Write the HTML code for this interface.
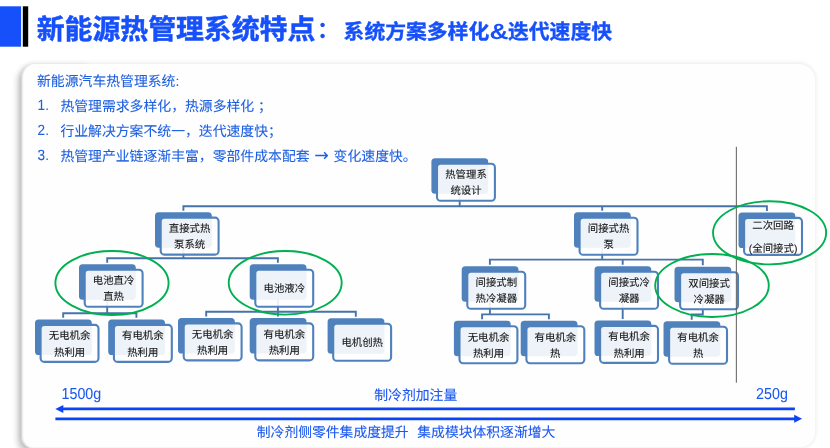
<!DOCTYPE html>
<html lang="zh-CN"><head><meta charset="utf-8"><title>新能源热管理系统特点</title>
<style>
html,body{margin:0;padding:0;background:#fff;}
body{width:830px;height:448px;overflow:hidden;position:relative;font-family:"Liberation Sans","Noto Sans CJK SC",sans-serif;}
#shl{position:absolute;left:20.9px;top:64.3px;width:70px;height:384px;background:#fefefe;border-radius:13.5px 0 0 11px;box-shadow:-3px 3.5px 6px rgba(0,0,0,0.23);}
#card{position:absolute;left:20.9px;top:64.3px;width:794.2px;height:384px;background:#fefefe;border-radius:13.5px 16px 16px 11px;box-shadow:0 0 4px rgba(0,20,80,0.075), 0 -1px 7px rgba(0,0,30,0.045), inset 2.2px -0.5px 2px -1px rgba(0,0,0,0.2);}
svg{position:absolute;left:0;top:0;will-change:transform;}
text{font-family:"Liberation Sans","Noto Sans CJK SC",sans-serif;text-rendering:geometricPrecision;}
</style></head><body>
<div id="shl"></div><div id="card"></div>
<svg width="830" height="448" viewBox="0 0 830 448">
<rect x="0" y="6.3" width="21.1" height="40.4" fill="#1650fb"/>
<rect x="22.8" y="6.3" width="5.4" height="40.4" fill="#000"/>
<text transform="translate(36.70 38.85) scale(1 1.0)" font-size="27.87" font-weight="700" fill="#1650fb" stroke="#1650fb" stroke-width="0.5">新能源热管理系统特点</text>
<text x="316.8" y="37.7" font-size="23.3" font-weight="700" fill="#1650fb">：</text>
<text transform="translate(343.60 39.00) scale(1 1.0)" font-size="20.8" font-weight="700" fill="#1650fb" stroke="#1650fb" stroke-width="0.35">系统方案多样化</text>
<text transform="translate(489.4 39.0) scale(1.26 1.06)" font-size="20.8" font-weight="700" fill="#1650fb">&amp;</text>
<text transform="translate(508.00 39.00) scale(1 1.0)" font-size="20.8" font-weight="700" fill="#1650fb" stroke="#1650fb" stroke-width="0.35">迭代速度快</text>
<g font-size="13.85" fill="#1c5fe0" stroke="#1c5fe0" stroke-width="0.08">
<text transform="translate(37.00 85.50) scale(1 1.0)">新能源汽车热管理系统:</text>
<text transform="translate(37.6 110.4) scale(0.98 1.07)" stroke-width="0.05">1.</text>
<text transform="translate(60.40 110.70) scale(1 1.0)">热管理需求多样化，热源多样化 ；</text>
<text transform="translate(37.6 135.29999999999998) scale(0.98 1.07)" stroke-width="0.05">2.</text>
<text transform="translate(60.40 135.60) scale(1 1.0)">行业解决方案不统一，迭代速度快；</text>
<text transform="translate(37.6 160.39999999999998) scale(0.98 1.07)" stroke-width="0.05">3.</text>
<text transform="translate(60.40 160.70) scale(1 1.0)">热管理产业链逐渐丰富，零部件成本配套</text>
<text x="314.2" y="160.7" style="font-family:'DejaVu Sans','Liberation Sans',sans-serif" font-size="17.4" stroke="none">→</text>
<text transform="translate(333.60 160.70) scale(1 1.0)">变化速度快。</text>
</g>
<path d="M459.7 193V206.3 M183.4 210.7V206.3H766.9V211 M602.2 206.3V210.8 M183.4 247.5V258.3 M107.2 262.7V258.3H277.9V262.7 M602.2 247.8V259.6 M489.9 264.7V259.6H702.8V265.2 M622.7 259.6V264.7 M107.2 299V313.2 M63.2 317.8V313.2H136.4V317.8 M277.9 299V311.8 M206.2 316.4V311.8H355.8V316.7 M277.9 311.8V316.4 M489.9 301V314.4 M482.1 319.2V314.4H548.9V319.2 M622.7 301V318.9 M702.8 301.5V314.5H691.7V319.7" stroke="#4673aa" stroke-width="1.9" fill="none"/>
<rect x="431.4" y="158.3" width="56.8" height="35.5" rx="3.6" fill="#4f81bd"/>
<rect x="437.0" y="163.8" width="57.9" height="37.0" rx="3.6" fill="#fff" fill-opacity="0.9" stroke="#4f81bd" stroke-width="2.1"/>
<text transform="translate(466.00 178.24) scale(1 1.0)" font-size="10.4" fill="#141414" stroke="#141414" stroke-width="0.1" text-anchor="middle">热管理系</text>
<text transform="translate(466.00 194.34) scale(1 1.0)" font-size="10.4" fill="#141414" stroke="#141414" stroke-width="0.1" text-anchor="middle">统设计</text>
<rect x="155.0" y="212.2" width="56.8" height="35.5" rx="3.6" fill="#4f81bd"/>
<rect x="160.7" y="217.6" width="57.9" height="37.0" rx="3.6" fill="#fff" fill-opacity="0.9" stroke="#4f81bd" stroke-width="2.1"/>
<text transform="translate(189.60 232.14) scale(1 1.0)" font-size="10.4" fill="#141414" stroke="#141414" stroke-width="0.1" text-anchor="middle">直接式热</text>
<text transform="translate(189.60 248.24) scale(1 1.0)" font-size="10.4" fill="#141414" stroke="#141414" stroke-width="0.1" text-anchor="middle">泵系统</text>
<rect x="574.0" y="212.3" width="56.8" height="35.5" rx="3.6" fill="#4f81bd"/>
<rect x="579.6" y="217.8" width="57.9" height="37.0" rx="3.6" fill="#fff" fill-opacity="0.9" stroke="#4f81bd" stroke-width="2.1"/>
<text transform="translate(608.60 232.24) scale(1 1.0)" font-size="10.4" fill="#141414" stroke="#141414" stroke-width="0.1" text-anchor="middle">间接式热</text>
<text transform="translate(608.60 248.34) scale(1 1.0)" font-size="10.4" fill="#141414" stroke="#141414" stroke-width="0.1" text-anchor="middle">泵</text>
<rect x="738.5" y="212.5" width="56.8" height="35.5" rx="3.6" fill="#4f81bd"/>
<rect x="744.1" y="217.9" width="57.9" height="37.0" rx="3.6" fill="#fff" fill-opacity="0.9" stroke="#4f81bd" stroke-width="2.1"/>
<text transform="translate(773.10 229.19) scale(1 1.0)" font-size="10.4" fill="#141414" stroke="#141414" stroke-width="0.1" text-anchor="middle">二次回路</text>
<text transform="translate(773.10 251.79) scale(1 1.0)" font-size="10.4" fill="#141414" stroke="#141414" stroke-width="0.1" text-anchor="middle">(全间接式)</text>
<rect x="79.0" y="264.3" width="56.8" height="35.5" rx="3.6" fill="#4f81bd"/>
<rect x="84.7" y="269.8" width="57.9" height="37.0" rx="3.6" fill="#fff" fill-opacity="0.9" stroke="#4f81bd" stroke-width="2.1"/>
<text transform="translate(113.60 284.24) scale(1 1.0)" font-size="10.4" fill="#141414" stroke="#141414" stroke-width="0.1" text-anchor="middle">电池直冷</text>
<text transform="translate(113.60 300.34) scale(1 1.0)" font-size="10.4" fill="#141414" stroke="#141414" stroke-width="0.1" text-anchor="middle">直热</text>
<rect x="249.7" y="264.3" width="56.8" height="35.5" rx="3.6" fill="#4f81bd"/>
<rect x="255.3" y="269.8" width="57.9" height="37.0" rx="3.6" fill="#fff" fill-opacity="0.9" stroke="#4f81bd" stroke-width="2.1"/>
<text transform="translate(284.30 292.29) scale(1 1.0)" font-size="10.4" fill="#141414" stroke="#141414" stroke-width="0.1" text-anchor="middle">电池液冷</text>
<rect x="461.7" y="266.3" width="56.8" height="35.5" rx="3.6" fill="#4f81bd"/>
<rect x="467.3" y="271.8" width="57.9" height="37.0" rx="3.6" fill="#fff" fill-opacity="0.9" stroke="#4f81bd" stroke-width="2.1"/>
<text transform="translate(496.30 286.24) scale(1 1.0)" font-size="10.4" fill="#141414" stroke="#141414" stroke-width="0.1" text-anchor="middle">间接式制</text>
<text transform="translate(496.30 302.34) scale(1 1.0)" font-size="10.4" fill="#141414" stroke="#141414" stroke-width="0.1" text-anchor="middle">热冷凝器</text>
<rect x="594.5" y="266.3" width="56.8" height="35.5" rx="3.6" fill="#4f81bd"/>
<rect x="600.1" y="271.8" width="57.9" height="37.0" rx="3.6" fill="#fff" fill-opacity="0.9" stroke="#4f81bd" stroke-width="2.1"/>
<text transform="translate(629.10 286.24) scale(1 1.0)" font-size="10.4" fill="#141414" stroke="#141414" stroke-width="0.1" text-anchor="middle">间接式冷</text>
<text transform="translate(629.10 302.34) scale(1 1.0)" font-size="10.4" fill="#141414" stroke="#141414" stroke-width="0.1" text-anchor="middle">凝器</text>
<rect x="674.5" y="266.8" width="56.8" height="35.5" rx="3.6" fill="#4f81bd"/>
<rect x="680.1" y="272.2" width="57.9" height="37.0" rx="3.6" fill="#fff" fill-opacity="0.9" stroke="#4f81bd" stroke-width="2.1"/>
<text transform="translate(709.10 286.74) scale(1 1.0)" font-size="10.4" fill="#141414" stroke="#141414" stroke-width="0.1" text-anchor="middle">双间接式</text>
<text transform="translate(709.10 302.84) scale(1 1.0)" font-size="10.4" fill="#141414" stroke="#141414" stroke-width="0.1" text-anchor="middle">冷凝器</text>
<rect x="35.0" y="319.5" width="56.8" height="35.5" rx="3.6" fill="#4f81bd"/>
<rect x="40.6" y="324.9" width="57.9" height="37.0" rx="3.6" fill="#fff" fill-opacity="0.9" stroke="#4f81bd" stroke-width="2.1"/>
<text transform="translate(69.60 339.44) scale(1 1.0)" font-size="10.4" fill="#141414" stroke="#141414" stroke-width="0.1" text-anchor="middle">无电机余</text>
<text transform="translate(69.60 355.54) scale(1 1.0)" font-size="10.4" fill="#141414" stroke="#141414" stroke-width="0.1" text-anchor="middle">热利用</text>
<rect x="108.2" y="319.5" width="56.8" height="35.5" rx="3.6" fill="#4f81bd"/>
<rect x="113.9" y="324.9" width="57.9" height="37.0" rx="3.6" fill="#fff" fill-opacity="0.9" stroke="#4f81bd" stroke-width="2.1"/>
<text transform="translate(142.80 339.44) scale(1 1.0)" font-size="10.4" fill="#141414" stroke="#141414" stroke-width="0.1" text-anchor="middle">有电机余</text>
<text transform="translate(142.80 355.54) scale(1 1.0)" font-size="10.4" fill="#141414" stroke="#141414" stroke-width="0.1" text-anchor="middle">热利用</text>
<rect x="178.0" y="318.0" width="56.8" height="35.5" rx="3.6" fill="#4f81bd"/>
<rect x="183.7" y="323.4" width="57.9" height="37.0" rx="3.6" fill="#fff" fill-opacity="0.9" stroke="#4f81bd" stroke-width="2.1"/>
<text transform="translate(212.60 337.94) scale(1 1.0)" font-size="10.4" fill="#141414" stroke="#141414" stroke-width="0.1" text-anchor="middle">无电机余</text>
<text transform="translate(212.60 354.04) scale(1 1.0)" font-size="10.4" fill="#141414" stroke="#141414" stroke-width="0.1" text-anchor="middle">热利用</text>
<rect x="249.7" y="318.0" width="56.8" height="35.5" rx="3.6" fill="#4f81bd"/>
<rect x="255.3" y="323.4" width="57.9" height="37.0" rx="3.6" fill="#fff" fill-opacity="0.9" stroke="#4f81bd" stroke-width="2.1"/>
<text transform="translate(284.30 337.94) scale(1 1.0)" font-size="10.4" fill="#141414" stroke="#141414" stroke-width="0.1" text-anchor="middle">有电机余</text>
<text transform="translate(284.30 354.04) scale(1 1.0)" font-size="10.4" fill="#141414" stroke="#141414" stroke-width="0.1" text-anchor="middle">热利用</text>
<rect x="327.6" y="318.3" width="56.8" height="35.5" rx="3.6" fill="#4f81bd"/>
<rect x="333.2" y="323.8" width="57.9" height="37.0" rx="3.6" fill="#fff" fill-opacity="0.9" stroke="#4f81bd" stroke-width="2.1"/>
<text transform="translate(362.20 346.29) scale(1 1.0)" font-size="10.4" fill="#141414" stroke="#141414" stroke-width="0.1" text-anchor="middle">电机创热</text>
<rect x="453.9" y="320.8" width="56.8" height="35.5" rx="3.6" fill="#4f81bd"/>
<rect x="459.5" y="326.2" width="57.9" height="37.0" rx="3.6" fill="#fff" fill-opacity="0.9" stroke="#4f81bd" stroke-width="2.1"/>
<text transform="translate(488.50 340.74) scale(1 1.0)" font-size="10.4" fill="#141414" stroke="#141414" stroke-width="0.1" text-anchor="middle">无电机余</text>
<text transform="translate(488.50 356.84) scale(1 1.0)" font-size="10.4" fill="#141414" stroke="#141414" stroke-width="0.1" text-anchor="middle">热利用</text>
<rect x="520.7" y="320.8" width="56.8" height="35.5" rx="3.6" fill="#4f81bd"/>
<rect x="526.4" y="326.2" width="57.9" height="37.0" rx="3.6" fill="#fff" fill-opacity="0.9" stroke="#4f81bd" stroke-width="2.1"/>
<text transform="translate(555.30 340.74) scale(1 1.0)" font-size="10.4" fill="#141414" stroke="#141414" stroke-width="0.1" text-anchor="middle">有电机余</text>
<text transform="translate(555.30 356.84) scale(1 1.0)" font-size="10.4" fill="#141414" stroke="#141414" stroke-width="0.1" text-anchor="middle">热</text>
<rect x="594.5" y="320.5" width="56.8" height="35.5" rx="3.6" fill="#4f81bd"/>
<rect x="600.1" y="325.9" width="57.9" height="37.0" rx="3.6" fill="#fff" fill-opacity="0.9" stroke="#4f81bd" stroke-width="2.1"/>
<text transform="translate(629.10 340.44) scale(1 1.0)" font-size="10.4" fill="#141414" stroke="#141414" stroke-width="0.1" text-anchor="middle">有电机余</text>
<text transform="translate(629.10 356.54) scale(1 1.0)" font-size="10.4" fill="#141414" stroke="#141414" stroke-width="0.1" text-anchor="middle">热利用</text>
<rect x="663.5" y="321.3" width="56.8" height="35.5" rx="3.6" fill="#4f81bd"/>
<rect x="669.1" y="326.8" width="57.9" height="37.0" rx="3.6" fill="#fff" fill-opacity="0.9" stroke="#4f81bd" stroke-width="2.1"/>
<text transform="translate(698.10 341.24) scale(1 1.0)" font-size="10.4" fill="#141414" stroke="#141414" stroke-width="0.1" text-anchor="middle">有电机余</text>
<text transform="translate(698.10 357.34) scale(1 1.0)" font-size="10.4" fill="#141414" stroke="#141414" stroke-width="0.1" text-anchor="middle">热</text>
<path d="M736.35 146.8V382.7" stroke="#5e5e5e" stroke-width="1" fill="none"/>
<ellipse cx="112.0" cy="283.0" rx="56.6" ry="32.0" fill="none" stroke="#00b050" stroke-width="1.9"/>
<ellipse cx="285.2" cy="282.8" rx="56.5" ry="31.8" fill="none" stroke="#00b050" stroke-width="1.9"/>
<ellipse cx="712.0" cy="285.5" rx="56.8" ry="31.5" fill="none" stroke="#00b050" stroke-width="1.9"/>
<ellipse cx="769.6" cy="232.8" rx="56.55" ry="31.6" fill="none" stroke="#00b050" stroke-width="1.9"/>
<path d="M62 408.95H794.9" stroke="#0c43f5" stroke-width="2.75" fill="none"/>
<path d="M55.3 408.95L63.3 404.9V413Z" fill="#0c43f5"/>
<path d="M55.4 418.8H796" stroke="#0c43f5" stroke-width="2.75" fill="none"/>
<path d="M802.1 418.8L794.2 414.75V422.85Z" fill="#0c43f5"/>
<g fill="#1b58f0" stroke="#1b58f0" stroke-width="0.1">
<text transform="translate(61.5 398.6) scale(0.965 1.07)" font-size="14.8" stroke-width="0.05">1500g</text>
<text transform="translate(756.1 398.6) scale(0.965 1.07)" font-size="14.8" stroke-width="0.05">250g</text>
<text transform="translate(374.20 400.30) scale(1 1.0)" font-size="13.85">制冷剂加注量</text>
<text transform="translate(256.80 437.20) scale(1 1.0)" font-size="13.8">制冷剂侧零件集成度提升</text>
<text transform="translate(417.30 437.20) scale(1 1.0)" font-size="13.8">集成模块体积逐渐增大</text>
</g>
</svg></body></html>
